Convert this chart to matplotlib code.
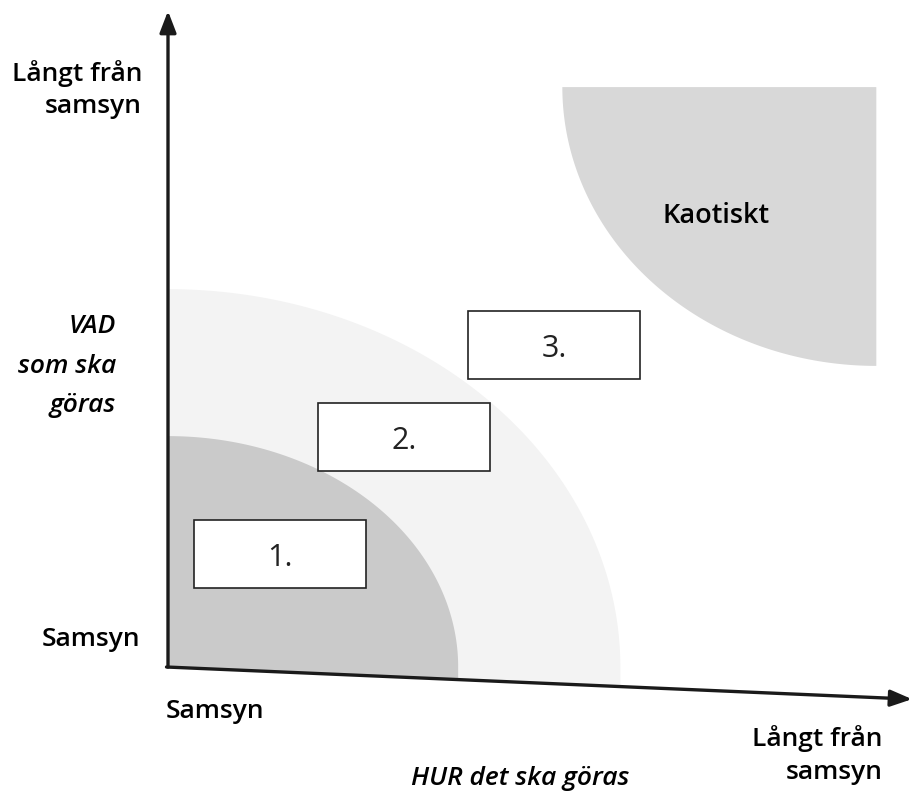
import numpy as np
import matplotlib.pyplot as plt
from matplotlib.patches import Polygon, Rectangle

plt.rcParams['font.family'] = ['Open Sans', 'DejaVu Sans']

# Diagram data: agreement on HUR (x) and VAD (y), 0 = samsyn, 100 = långt från samsyn
stage_labels = ["1.", "2.", "3."]
stage_how = [15.1, 31.7, 51.9]
stage_what = [17.2, 35.1, 49.1]
box_w, box_h = 23.1, 10.4

# quarter-ellipse zones (rx, ry)
near_zone = (39.0, 35.2)
faint_zone = (60.8, 57.6)
chaos_corner = (95.2, 88.4)
chaos_zone = (42.2, 42.5)

x_axis_drop = -4.9   # the scanned x axis sags a little to the right


def axis_y(x):
    return x_axis_drop * x / 100.0


def origin_zone(rx, ry):
    t = np.linspace(0, np.pi / 2, 120)
    pts = list(zip(rx * np.cos(t), ry * np.sin(t)))
    pts += [(0, axis_y(0)), (rx, axis_y(rx))]
    return pts


fig = plt.figure(figsize=(9.15, 8.04), dpi=100)
ax = fig.add_axes([0, 0, 1, 1])
ax.set_xlim(-22.58, 100.40)
ax.set_ylim(-20.73, 101.83)
ax.axis('off')

ax.add_patch(Polygon(origin_zone(*faint_zone), closed=True, fc='#f3f3f3', ec='none', zorder=1))
ax.add_patch(Polygon(origin_zone(*near_zone), closed=True, fc='#cacaca', ec='none', zorder=2))

cx, cy = chaos_corner
rx, ry = chaos_zone
t = np.linspace(np.pi, 1.5 * np.pi, 120)
chaos_pts = list(zip(cx + rx * np.cos(t), cy + ry * np.sin(t))) + [(cx, cy)]
ax.add_patch(Polygon(chaos_pts, closed=True, fc='#d8d8d8', ec='none', zorder=2))
ax.text(cx - rx * 0.51, cy - ry * 0.46, "Kaotiskt", fontsize=19.5, fontweight='semibold',
        ha='center', va='center', zorder=5)

# axes with arrow heads
arrow_style = dict(arrowstyle='-|>,head_length=1.3,head_width=0.5', lw=2.4, color='#1a1a1a',
                   shrinkA=0, shrinkB=0)
ax.annotate("", xy=(0, 100.0), xytext=(0, 0), arrowprops=arrow_style, zorder=6)
ax.annotate("", xy=(100.0, axis_y(100.0)), xytext=(-0.2, 0), arrowprops=arrow_style, zorder=6)

for lab, hx, wy in zip(stage_labels, stage_how, stage_what):
    ax.add_patch(Rectangle((hx - box_w / 2, wy - box_h / 2), box_w, box_h,
                           fc='white', ec='#222222', lw=1.2, zorder=4))
    ax.text(hx, wy - 0.5, lab, fontsize=22, ha='center', va='center', color='#222222', zorder=5)

# axis texts
ax.text(-3.5, 88.2, "Långt från\nsamsyn", fontsize=19, fontweight='semibold',
        ha='right', va='center', multialignment='right', linespacing=1.4)
ax.text(-7.0, 46.0, "VAD\nsom ska\ngöras", fontsize=19, fontstyle='italic', fontweight='semibold',
        ha='right', va='center', multialignment='right', linespacing=1.75)
ax.text(-3.8, 4.3, "Samsyn", fontsize=19, fontweight='semibold', ha='right', va='center')
ax.text(-0.3, -6.7, "Samsyn", fontsize=19, fontweight='semibold', ha='left', va='center')
ax.text(96.0, -13.3, "Långt från\nsamsyn", fontsize=19, fontweight='semibold',
        ha='right', va='center', multialignment='right', linespacing=1.4)
ax.text(47.3, -16.8, "HUR det ska göras", fontsize=19, fontstyle='italic', fontweight='semibold',
        ha='center', va='center')

fig.savefig("out.png", dpi=100)
